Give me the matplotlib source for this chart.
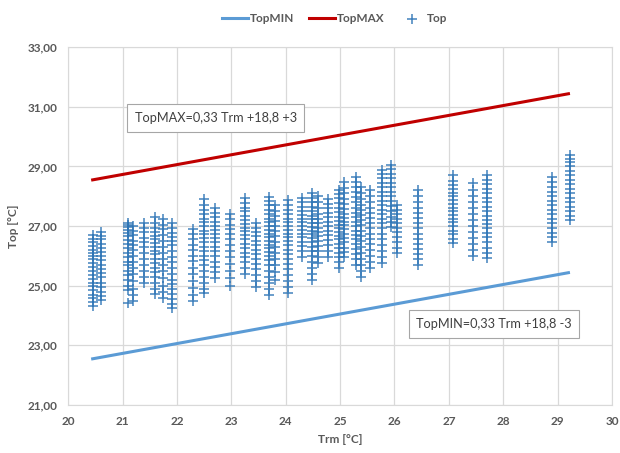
import numpy as np
import matplotlib
matplotlib.use("Agg")
import matplotlib.pyplot as plt
from matplotlib.ticker import FuncFormatter

plt.rcParams['font.family'] = ['Lato', 'DejaVu Sans']

trm_cols = [20.45, 20.6, 21.1, 21.2, 21.4, 21.6, 21.75, 21.9, 22.3, 22.5,
            22.7, 22.98, 23.25, 23.45, 23.7, 23.8, 24.05, 24.3, 24.48, 24.6,
            24.77, 24.98, 25.08, 25.3, 25.38, 25.55, 25.78, 25.94, 26.05, 26.43,
            27.07, 27.44, 27.71, 28.9, 29.23]

top_cols = [
    [24.32, 24.45, 24.58, 24.7, 24.85, 24.98, 25.1, 25.22, 25.35, 25.5, 25.62, 25.75, 25.88, 26.0, 26.08, 26.2, 26.33, 26.45, 26.58, 26.7],
    [24.52, 24.66, 24.8, 24.95, 25.1, 25.3, 25.42, 25.55, 25.7, 25.85, 26.0, 26.12, 26.25, 26.4, 26.55, 26.68, 26.8],
    [24.42, 24.85, 25.0, 25.2, 25.35, 25.5, 25.68, 25.8, 25.95, 26.1, 26.25, 26.4, 26.52, 26.65, 26.78, 26.88, 26.97, 27.05, 27.1],
    [24.5, 24.7, 24.9, 25.15, 25.4, 25.6, 25.8, 26.0, 26.2, 26.35, 26.5, 26.7, 26.85, 27.0],
    [25.1, 25.3, 25.5, 25.7, 25.9, 26.1, 26.3, 26.45, 26.6, 26.8, 26.95, 27.1],
    [24.72, 24.9, 25.1, 25.3, 25.45, 25.6, 25.75, 25.9, 26.05, 26.15, 26.3, 26.42, 26.55, 26.68, 26.8, 26.95, 27.1, 27.3],
    [24.6, 24.8, 25.0, 25.25, 25.5, 25.7, 25.9, 26.1, 26.3, 26.5, 26.7, 26.9, 27.05, 27.25],
    [24.25, 24.4, 24.55, 24.72, 24.9, 25.05, 25.2, 25.4, 25.6, 25.78, 25.95, 26.15, 26.35, 26.5, 26.62, 26.78, 26.95, 27.1],
    [24.5, 24.7, 24.92, 25.15, 25.38, 25.6, 25.82, 26.0, 26.2, 26.38, 26.55, 26.72, 26.9],
    [24.75, 24.9, 25.1, 25.3, 25.5, 25.7, 25.85, 26.0, 26.15, 26.3, 26.45, 26.6, 26.72, 26.85, 27.0, 27.12, 27.25, 27.4, 27.55, 27.7, 27.9],
    [25.25, 25.45, 25.62, 25.8, 25.98, 26.15, 26.3, 26.45, 26.6, 26.75, 26.88, 27.0, 27.15, 27.3, 27.45, 27.6],
    [25.0, 25.25, 25.5, 25.72, 25.95, 26.15, 26.35, 26.55, 26.72, 26.9, 27.05, 27.22, 27.4],
    [25.4, 25.6, 25.8, 25.95, 26.1, 26.25, 26.4, 26.55, 26.7, 26.82, 26.95, 27.08, 27.2, 27.35, 27.5, 27.62, 27.78, 27.95],
    [24.95, 25.15, 25.35, 25.55, 25.72, 25.9, 26.05, 26.2, 26.35, 26.5, 26.65, 26.8, 26.95, 27.1],
    [24.7, 24.9, 25.1, 25.3, 25.5, 25.7, 25.85, 26.0, 26.12, 26.25, 26.38, 26.5, 26.62, 26.75, 26.88, 27.0, 27.12, 27.25, 27.4, 27.55, 27.7, 27.85, 27.97],
    [25.2, 25.45, 25.7, 25.9, 26.1, 26.3, 26.48, 26.65, 26.82, 27.0, 27.18, 27.35, 27.52, 27.7],
    [24.75, 24.95, 25.15, 25.35, 25.55, 25.72, 25.9, 26.05, 26.2, 26.35, 26.5, 26.62, 26.75, 26.88, 27.0, 27.12, 27.25, 27.4, 27.55, 27.7, 27.87],
    [25.96, 26.15, 26.32, 26.48, 26.62, 26.75, 26.88, 27.0, 27.12, 27.25, 27.38, 27.52, 27.65, 27.8, 27.93],
    [25.2, 25.4, 25.6, 25.8, 25.98, 26.15, 26.3, 26.45, 26.6, 26.72, 26.85, 26.98, 27.1, 27.22, 27.35, 27.5, 27.65, 27.8, 27.95, 28.1],
    [25.76, 25.95, 26.15, 26.32, 26.5, 26.65, 26.8, 26.95, 27.1, 27.25, 27.42, 27.6, 27.8, 28.0],
    [25.96, 26.15, 26.35, 26.52, 26.7, 26.85, 27.0, 27.15, 27.3, 27.45, 27.6, 27.75, 27.9],
    [25.6, 25.78, 25.95, 26.1, 26.25, 26.4, 26.55, 26.68, 26.8, 26.92, 27.05, 27.18, 27.32, 27.48, 27.62, 27.78, 27.95, 28.08, 28.2],
    [25.96, 26.12, 26.28, 26.45, 26.6, 26.75, 26.9, 27.02, 27.15, 27.28, 27.42, 27.58, 27.75, 27.92, 28.1, 28.28, 28.47],
    [25.7, 25.88, 26.05, 26.22, 26.4, 26.55, 26.7, 26.85, 27.0, 27.15, 27.3, 27.45, 27.62, 27.8, 27.98, 28.15, 28.32, 28.48, 28.64],
    [25.3, 25.5, 25.7, 25.9, 26.1, 26.3, 26.5, 26.68, 26.85, 27.02, 27.2, 27.38, 27.55, 27.72, 27.9, 28.1, 28.3],
    [25.6, 25.8, 26.0, 26.2, 26.4, 26.58, 26.75, 26.92, 27.1, 27.28, 27.45, 27.62, 27.8, 28.0, 28.2],
    [25.76, 25.95, 26.15, 26.35, 26.55, 26.75, 26.95, 27.1, 27.25, 27.4, 27.55, 27.7, 27.85, 28.0, 28.15, 28.3, 28.45, 28.6, 28.75, 28.88],
    [26.97, 27.15, 27.32, 27.5, 27.68, 27.85, 28.0, 28.15, 28.3, 28.45, 28.6, 28.75, 28.9, 29.04],
    [26.1, 26.28, 26.45, 26.62, 26.8, 26.95, 27.1, 27.25, 27.4, 27.55, 27.7],
    [25.7, 25.88, 26.05, 26.22, 26.4, 26.58, 26.75, 26.92, 27.1, 27.28, 27.45, 27.62, 27.8, 28.0, 28.2],
    [26.43, 26.58, 26.72, 26.85, 27.0, 27.12, 27.25, 27.38, 27.5, 27.62, 27.75, 27.88, 28.0, 28.12, 28.25, 28.38, 28.52, 28.7],
    [26.0, 26.2, 26.4, 26.6, 26.8, 27.0, 27.2, 27.4, 27.6, 27.8, 28.0, 28.2, 28.44],
    [25.93, 26.1, 26.27, 26.45, 26.62, 26.78, 26.92, 27.06, 27.2, 27.35, 27.5, 27.65, 27.8, 27.95, 28.1, 28.25, 28.4, 28.55, 28.7],
    [26.46, 26.62, 26.78, 26.95, 27.1, 27.25, 27.4, 27.55, 27.7, 27.85, 28.0, 28.15, 28.3, 28.48, 28.64],
    [27.2, 27.35, 27.5, 27.65, 27.8, 27.95, 28.1, 28.25, 28.4, 28.55, 28.7, 28.85, 29.0, 29.15, 29.25, 29.38],
]

# comfort band: Top = 0,33 Trm + 18,8 +/- 3
slope = 0.33
intercept = 18.8
band = 3
trm_line = [20.45, 29.2]

top_x = np.concatenate([[x] * len(ys) for x, ys in zip(trm_cols, top_cols)])
top_y = np.concatenate(top_cols)
trm_arr = np.array(trm_line)

grey = '#595959'
fig = plt.figure(figsize=(6.2, 4.53), dpi=100)
ax = fig.add_axes([0.11, 0.106, 0.877, 0.79])

ax.plot(trm_arr, slope * trm_arr + intercept - band, color='#5B9BD5', lw=2.2, label='TopMIN', zorder=3)
ax.plot(trm_arr, slope * trm_arr + intercept + band, color='#C00000', lw=2.2, label='TopMAX', zorder=3)
ax.scatter(top_x, top_y, marker='+', s=50, linewidths=1.1, color='#2E75B6', alpha=0.9,
           label='Top', zorder=2)

ax.set_xlim(20, 30)
ax.set_ylim(21, 33)
ax.set_xticks(range(20, 31))
ax.set_yticks(range(21, 34, 2))
ax.yaxis.set_major_formatter(FuncFormatter(lambda v, p: f'{v:.2f}'.replace('.', ',')))
ax.grid(True, color='#D9D9D9', lw=0.9)
ax.set_axisbelow(True)
for s in ax.spines.values():
    s.set_color('#D9D9D9')
ax.tick_params(length=0, colors=grey, labelsize=8.5, pad=8)
for lab in ax.get_xticklabels() + ax.get_yticklabels():
    lab.set_fontweight('bold')

ax.set_xlabel('Trm [°C]', color=grey, fontsize=8.5, fontweight='bold', labelpad=5)
ax.set_ylabel('Top [°C]', color=grey, fontsize=8.5, fontweight='bold', labelpad=6)

box = dict(boxstyle='square,pad=0.6', fc='white', ec='#A6A6A6', lw=0.8)
ax.text(21.22, 30.62, 'TopMAX=0,33 Trm +18,8 +3', fontsize=9.2, color='#404040',
        va='center', ha='left', bbox=box, zorder=4)
ax.text(26.4, 23.72, 'TopMIN=0,33 Trm +18,8 -3', fontsize=9.2, color='#404040',
        va='center', ha='left', bbox=box, zorder=4)

leg = ax.legend(loc='lower center', bbox_to_anchor=(0.49, 1.035), ncol=3, frameon=False,
                fontsize=8.5, handlelength=2.2, handletextpad=0.2, columnspacing=1.2)
for t in leg.get_texts():
    t.set_color(grey)
    t.set_fontweight('bold')

fig.savefig('out.png', dpi=100, facecolor='white')
